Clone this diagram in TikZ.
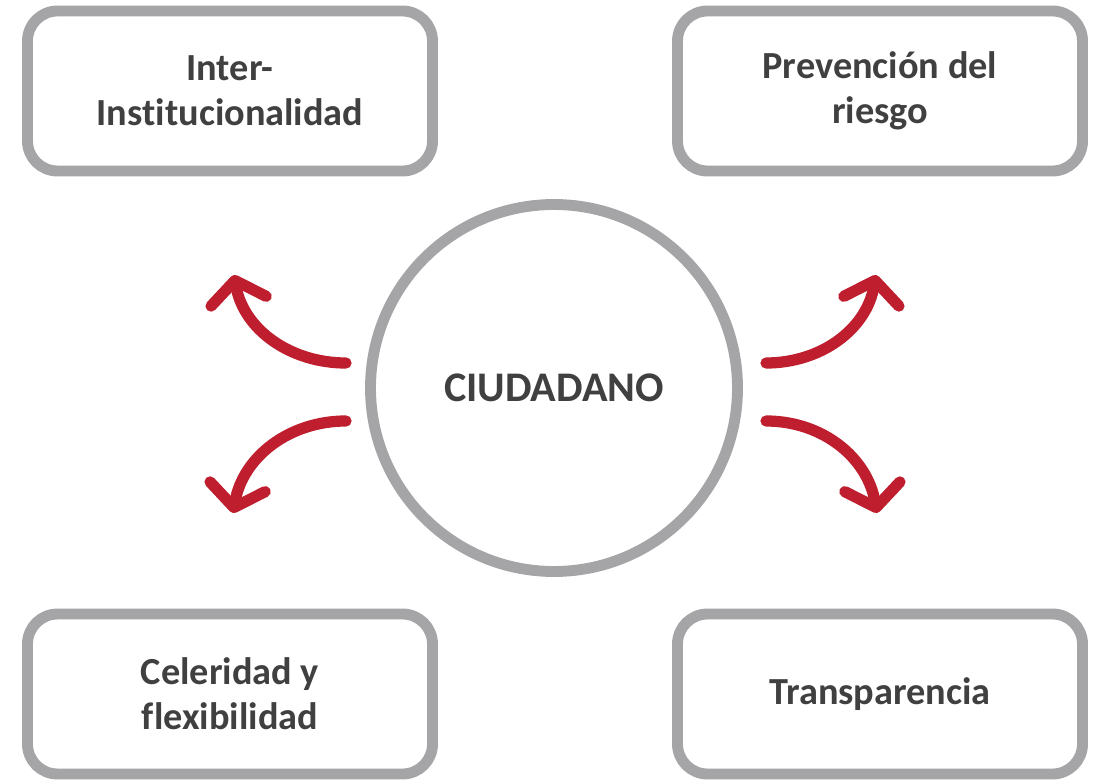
\documentclass[tikz,border=0pt]{standalone}
\usepackage{fontspec}
\setmainfont{Carlito}[Ligatures=NoCommon]
\usetikzlibrary{arrows.meta}
\definecolor{boxgray}{RGB}{165,165,168}
\definecolor{arrowred}{RGB}{190,30,45}
\definecolor{textgray}{RGB}{64,64,64}
\begin{document}
\begin{tikzpicture}[
  area/.style={draw=boxgray,line width=3.1pt,rounded corners=0.3cm,
    minimum width=4.05cm,minimum height=1.6cm,align=center,
    font=\fontsize{10.9}{12.8}\selectfont\bfseries,text=textgray},
  hub/.style={draw=boxgray,line width=3.1pt,circle,minimum size=3.67cm,
    font=\fontsize{12}{14}\selectfont\bfseries,text=textgray},
  flow/.style={draw=arrowred,line width=3.2pt,line cap=round,
    -{Straight Barb[length=2.1mm,width=5.6mm,line join=round,line cap=round]}}]
  \useasboundingbox (0,0) rectangle (10.97,7.79);
  % centre
  \path (5.54,3.91) node[hub] (ciudadano) {CIUDADANO};
  % four boxes
  \path (2.30,6.88) node[area] (inter) {Inter-\\Institucionalidad};
  \path (8.80,6.88) node[area] (prevencion) {Prevención del\\riesgo};
  \path (2.30,0.85) node[area] (celeridad) {Celeridad y\\flexibilidad};
  \path (8.80,0.85) node[area] (transparencia) {Transparencia};
  % arrow ends
  \coordinate (lu0) at (3.46,4.16);
  \coordinate (lu1) at (2.34,5.04);
  \coordinate (ld0) at (3.46,3.58);
  \coordinate (ld1) at (2.33,2.66);
  \coordinate (ru0) at (7.66,4.16);
  \coordinate (ru1) at (8.76,5.04);
  \coordinate (rd0) at (7.66,3.58);
  \coordinate (rd1) at (8.77,2.66);
  \draw[flow] (lu0) to[out=180,in=-80] (lu1);
  \draw[flow] (ld0) to[out=180,in=80] (ld1);
  \draw[flow] (ru0) to[out=0,in=-100] (ru1);
  \draw[flow] (rd0) to[out=0,in=100] (rd1);
\end{tikzpicture}
\end{document}
